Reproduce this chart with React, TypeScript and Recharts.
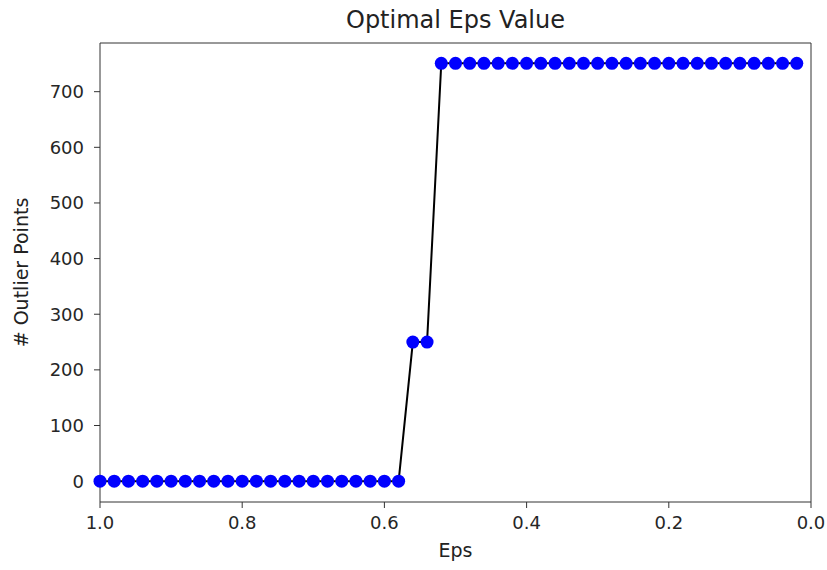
import { ComposedChart, Line, XAxis, YAxis } from 'recharts';

const epsValues = [
  1.0, 0.98, 0.96, 0.94, 0.92, 0.9, 0.88, 0.86, 0.84, 0.82, 0.8, 0.78, 0.76, 0.74, 0.72, 0.7, 0.68,
  0.66, 0.64, 0.62, 0.6, 0.58, 0.56, 0.54, 0.52, 0.5, 0.48, 0.46, 0.44, 0.42, 0.4, 0.38, 0.36, 0.34,
  0.32, 0.3, 0.28, 0.26, 0.24, 0.22, 0.2, 0.18, 0.16, 0.14, 0.12, 0.1, 0.08, 0.06, 0.04, 0.02,
];
const outlierCounts = [
  0, 0, 0, 0, 0, 0, 0, 0, 0, 0, 0, 0, 0, 0, 0, 0, 0, 0, 0, 0, 0, 0, 250, 250, 751, 751, 751, 751, 751,
  751, 751, 751, 751, 751, 751, 751, 751, 751, 751, 751, 751, 751, 751, 751, 751, 751, 751, 751, 751,
  751,
];
const xTicks = [0, 0.2, 0.4, 0.6, 0.8, 1.0];
const yTicks = [0, 100, 200, 300, 400, 500, 600, 700];

const data = epsValues.map((eps, i) => ({ eps, count: outlierCounts[i] }));

const font = 'DejaVu Sans, sans-serif';
const frame = '#333';
const tickStyle = { fontSize: 18, fill: '#262626', fontFamily: font };

export default function App() {
  return (
    <div style={{ position: 'relative', width: 827, height: 570, background: '#fff' }}>
      <style>{'body { margin: 0; overflow: hidden; }'}</style>
      <div
        style={{
          position: 'absolute',
          top: 6,
          left: 100,
          width: 711,
          textAlign: 'center',
          fontFamily: font,
          fontSize: 24,
          color: '#222',
        }}
      >
        Optimal Eps Value
      </div>
      <ComposedChart
        width={827}
        height={570}
        data={data}
        margin={{ top: 42, right: 15, bottom: 38, left: 40 }}
        style={{ overflow: 'visible' }}
      >
        <XAxis
          dataKey="eps"
          type="number"
          domain={[0, 1]}
          reversed
          ticks={xTicks}
          tickFormatter={(v: number) => v.toFixed(1)}
          tick={tickStyle}
          tickSize={6}
          tickMargin={8}
          stroke={frame}
          height={30}
          label={{
            value: 'Eps',
            position: 'insideBottom',
            offset: -25,
            fontSize: 19,
            fill: '#222',
            fontFamily: font,
          }}
        />
        <XAxis
          xAxisId="top"
          dataKey="eps"
          type="number"
          orientation="top"
          domain={[0, 1]}
          tick={false}
          tickLine={false}
          stroke={frame}
          height={1}
        />
        <YAxis
          type="number"
          domain={[-37.5, 787.5]}
          ticks={yTicks}
          tick={tickStyle}
          tickSize={6}
          tickMargin={10}
          stroke={frame}
          width={60}
          label={{
            value: '# Outlier Points',
            angle: -90,
            position: 'insideLeft',
            offset: -19,
            style: { textAnchor: 'middle', fontSize: 19, fill: '#222', fontFamily: font },
          }}
        />
        <YAxis
          yAxisId="right"
          orientation="right"
          type="number"
          domain={[-37.5, 787.5]}
          tick={false}
          tickLine={false}
          stroke={frame}
          width={1}
        />
        <Line
          dataKey="count"
          stroke="none"
          strokeWidth={0}
          dot={{ r: 6.5, fill: '#0000ff', stroke: 'none' }}
          activeDot={false}
          isAnimationActive={false}
        />
        <Line
          dataKey="count"
          type="linear"
          stroke="#000"
          strokeWidth={2}
          dot={false}
          activeDot={false}
          isAnimationActive={false}
        />
      </ComposedChart>
    </div>
  );
}
